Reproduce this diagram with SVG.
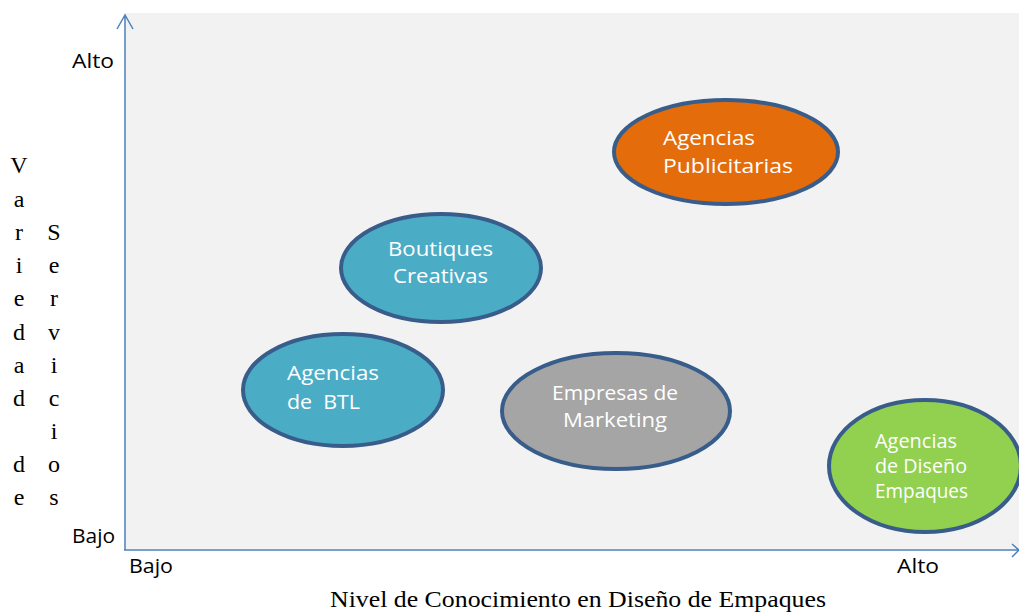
<svg xmlns="http://www.w3.org/2000/svg" width="1019" height="612" viewBox="0 0 1019 612">
<defs>
<style>
.node{stroke:#385d8a;stroke-width:4}
.lbl{font-family:"Open Sans","Liberation Sans",sans-serif;fill:#ffffff;font-size:20px;white-space:pre}
.ax{font-family:"Open Sans","Liberation Sans",sans-serif;fill:#000000;font-size:20px}
.tm{font-family:"Liberation Serif","Times New Roman",serif;fill:#000000;font-size:24px;text-anchor:middle}
.axis{stroke:#4f81bd;stroke-width:1.5;fill:none}
</style>
</defs>
<rect width="1019" height="612" fill="#ffffff"/>
<rect x="124" y="13" width="895" height="536" fill="#f2f2f2"/>
<g id="axes">
<path class="axis" d="M125,550 V15 M117,29 L125,15 L133,29"/>
<path class="axis" d="M124,550 H1018 M1012,544 L1019,550 L1012,557"/>
</g>
<g id="axis-labels">
<text class="ax" x="72" y="68" textLength="42" lengthAdjust="spacingAndGlyphs">Alto</text>
<text class="ax" x="72" y="543" textLength="43" lengthAdjust="spacingAndGlyphs">Bajo</text>
<text class="ax" x="129" y="573" textLength="44" lengthAdjust="spacingAndGlyphs">Bajo</text>
<text class="ax" x="897" y="573" textLength="42" lengthAdjust="spacingAndGlyphs">Alto</text>
<text class="tm" x="578" y="607" textLength="496" lengthAdjust="spacingAndGlyphs">Nivel de Conocimiento en Diseño de Empaques</text>
<g class="tm">
<text x="19" y="173">V</text><text x="19" y="207">a</text><text x="19" y="240">r</text><text x="19" y="273">i</text><text x="19" y="306">e</text><text x="19" y="340">d</text><text x="19" y="373">a</text><text x="19" y="406">d</text><text x="19" y="472">d</text><text x="19" y="505">e</text>
<text x="54" y="240">S</text><text x="54" y="273">e</text><text x="54" y="306">r</text><text x="54" y="340">v</text><text x="54" y="373">i</text><text x="54" y="406">c</text><text x="54" y="439">i</text><text x="54" y="472">o</text><text x="54" y="505">s</text>
</g>
</g>
<g id="agencias-publicitarias">
<ellipse class="node" cx="726" cy="152" rx="112" ry="52" fill="#e46c0a"/>
<text class="lbl" x="663" y="145" textLength="92" lengthAdjust="spacingAndGlyphs">Agencias</text>
<text class="lbl" x="663" y="173" textLength="130" lengthAdjust="spacingAndGlyphs">Publicitarias</text>
</g>
<g id="boutiques-creativas">
<ellipse class="node" cx="441" cy="268" rx="100" ry="54" fill="#4bacc6"/>
<text class="lbl" x="388" y="256" textLength="105" lengthAdjust="spacingAndGlyphs">Boutiques</text>
<text class="lbl" x="393" y="283" textLength="95" lengthAdjust="spacingAndGlyphs">Creativas</text>
</g>
<g id="agencias-btl">
<ellipse class="node" cx="343" cy="390" rx="100" ry="56" fill="#4bacc6"/>
<text class="lbl" x="287" y="380" textLength="92" lengthAdjust="spacingAndGlyphs">Agencias</text>
<text class="lbl" x="287" y="409" textLength="73" lengthAdjust="spacingAndGlyphs" xml:space="preserve">de  BTL</text>
</g>
<g id="empresas-marketing">
<ellipse class="node" cx="616" cy="411" rx="114" ry="58" fill="#a5a5a5"/>
<text class="lbl" x="552" y="400" textLength="126" lengthAdjust="spacingAndGlyphs">Empresas de</text>
<text class="lbl" x="563" y="427" textLength="104" lengthAdjust="spacingAndGlyphs">Marketing</text>
</g>
<g id="agencias-diseno-empaques">
<ellipse class="node" cx="925" cy="466" rx="96" ry="66" fill="#92d050"/>
<text class="lbl" x="875" y="448" font-size="17" textLength="82" lengthAdjust="spacingAndGlyphs">Agencias</text>
<text class="lbl" x="875" y="473" font-size="17" textLength="92" lengthAdjust="spacingAndGlyphs">de Diseño</text>
<text class="lbl" x="875" y="498" font-size="17" textLength="93" lengthAdjust="spacingAndGlyphs">Empaques</text>
</g>
</svg>
